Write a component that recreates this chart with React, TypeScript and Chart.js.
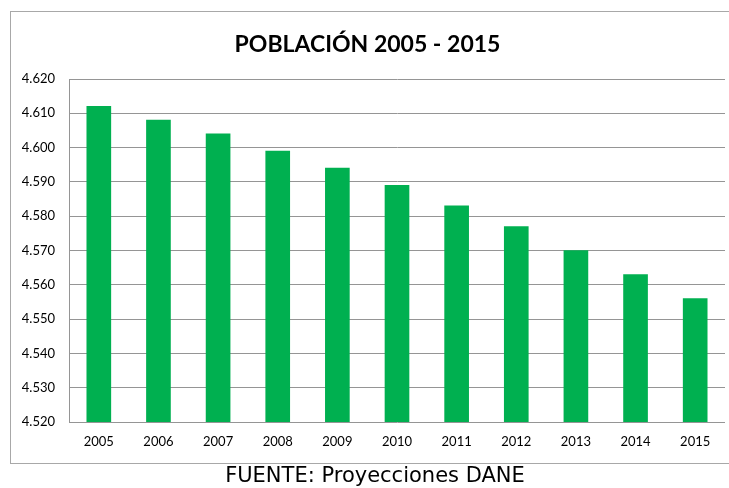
import React, { useEffect, useRef } from "react";
import { Chart, registerables } from "chart.js";

Chart.register(...registerables);

const years = ["2005", "2006", "2007", "2008", "2009", "2010", "2011", "2012", "2013", "2014", "2015"];
const population = [4.612, 4.608, 4.604, 4.599, 4.594, 4.589, 4.583, 4.577, 4.57, 4.563, 4.556];
const yMin = 4.52;
const yMax = 4.62;
const yStep = 0.01;
const titleText = "POBLACIÓN 2005 - 2015";
const footerText = "FUENTE: Proyecciones DANE";

export default function App() {
  const ref = useRef<HTMLCanvasElement | null>(null);

  useEffect(() => {
    if (!ref.current) return;
    const chart = new Chart(ref.current, {
      type: "bar",
      data: {
        labels: years,
        datasets: [
          {
            data: population,
            backgroundColor: "#00B050",
            borderWidth: 0,
            barThickness: 24,
          },
        ],
      },
      options: {
        responsive: false,
        animation: false,
        layout: { padding: { left: 10, right: 4, top: 0, bottom: 0 } },
        plugins: {
          legend: { display: false },
          tooltip: { enabled: false },
          title: {
            display: true,
            text: titleText,
            color: "#000",
            font: { family: "Lato", size: 23, weight: "bold", lineHeight: 1.2 },
            padding: { top: 31, bottom: 20.4 },
          },
        },
        scales: {
          x: {
            grid: { display: false, drawTicks: false },
            border: { display: false },
            ticks: {
              color: "#000",
              font: { family: "Lato", size: 13 },
              padding: 12,
              maxRotation: 0,
            },
            afterFit: (s: any) => {
              s.height = 66;
            },
          },
          y: {
            min: yMin,
            max: yMax,
            grid: { color: "#959595", lineWidth: 1, drawTicks: false },
            border: { display: true, color: "#959595", width: 1 },
            ticks: {
              stepSize: yStep,
              color: "#000",
              font: { family: "Lato", size: 13 },
              padding: 14,
              callback: (v: any) => Number(v).toFixed(3),
            },
            afterFit: (s: any) => {
              s.width = 59;
            },
          },
        },
      },
    });
    return () => chart.destroy();
  }, []);

  return (
    <div style={{ position: "absolute", left: 0, top: 0, width: 729, height: 488, overflow: "hidden", background: "#fff" }}>
      <div
        style={{
          position: "absolute",
          left: 10,
          top: 11,
          width: 740,
          height: 451,
          border: "1px solid #a8a8a8",
        }}
      />
      <canvas ref={ref} width={729} height={488} style={{ position: "absolute", left: 0, top: 0 }} />
      <div
        style={{
          position: "absolute",
          left: 0,
          width: 750,
          top: 462,
          lineHeight: "26px",
          textAlign: "center",
          fontFamily: "'DejaVu Sans'",
          fontSize: 21,
          color: "#000",
        }}
      >
        {footerText}
      </div>
    </div>
  );
}
